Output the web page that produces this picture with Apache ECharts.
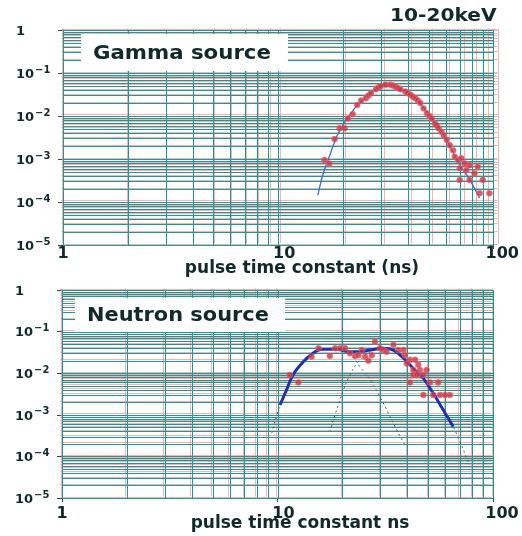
<!DOCTYPE html>
<html>
<head>
<meta charset="utf-8">
<style>
  html, body { margin: 0; padding: 0; background: #fff; }
  #chart { width: 522px; height: 536px; }
</style>
<script src="https://cdn.jsdelivr.net/npm/echarts@6/dist/echarts.min.js"></script>
</head>
<body>
<div id="chart"></div>
<script>
// grid line positions (log paper)
const gridX = [1, 2, 3, 4, 5, 6, 7, 8, 9, 10, 20, 30, 40, 50, 60, 70, 80, 90, 100]
const gridY = [
  1e-5, 2e-5, 3e-5, 4e-5, 5e-5, 6e-5, 7e-5, 8e-5, 9e-5,
  1e-4, 2e-4, 3e-4, 4e-4, 5e-4, 6e-4, 7e-4, 8e-4, 9e-4,
  1e-3, 2e-3, 3e-3, 4e-3, 5e-3, 6e-3, 7e-3, 8e-3, 9e-3,
  1e-2, 2e-2, 3e-2, 4e-2, 5e-2, 6e-2, 7e-2, 8e-2, 9e-2,
  1e-1, 2e-1, 3e-1, 4e-1, 5e-1, 6e-1, 7e-1, 8e-1, 9e-1, 1
]

// Gamma source, 10-20keV
const gammaPts = [
  [16.4, 9.5e-4], [17.3, 7.9e-4], [18.3, 2.9e-3], [19.3, 5.2e-3], [20.4, 5.2e-3],
  [21.1, 8.8e-3], [22.2, 1.1e-2], [23.3, 1.8e-2], [24.3, 2.3e-2], [25.6, 2.6e-2],
  [26.3, 3.0e-2], [27.0, 3.4e-2], [28.5, 4.2e-2], [29.2, 4.6e-2], [30.0, 5.0e-2],
  [31.6, 5.3e-2], [33.3, 5.3e-2], [34.2, 5.1e-2], [35.1, 4.8e-2], [36.0, 4.5e-2],
  [37.0, 4.2e-2], [39.0, 3.7e-2], [40.0, 3.4e-2], [41.2, 3.1e-2], [42.3, 2.8e-2],
  [43.4, 2.6e-2], [44.6, 2.3e-2], [45.8, 2.0e-2], [47.4, 1.5e-2], [49.1, 1.16e-2],
  [50.5, 1.0e-2], [51.8, 8.8e-3], [53.6, 6.8e-3], [54.6, 6.0e-3], [55.6, 5.2e-3],
  [57.5, 4.3e-3], [58.9, 3.5e-3], [60.7, 2.8e-3], [62.8, 2.1e-3], [65.1, 1.6e-3],
  [66.2, 1.13e-3], [68.6, 9.5e-4], [71.1, 1.04e-3], [73.6, 7.9e-4], [69.8, 6.1e-4],
  [75.0, 5.5e-4], [77.6, 7.2e-4], [81.8, 4.6e-4], [84.7, 6.6e-4], [69.8, 3.25e-4],
  [77.6, 3.25e-4], [89.3, 3.25e-4], [86.3, 1.6e-4], [95.9, 1.6e-4]
]
const gammaFit = [
  [15.3, 1.44e-4], [16.2, 4.6e-4], [17.4, 1.24e-3], [18.7, 3.3e-3], [20.0, 6.2e-3],
  [21.5, 1.05e-2], [23.0, 1.65e-2], [24.7, 2.35e-2], [27.5, 3.7e-2], [31.6, 5.2e-2],
  [35.0, 4.9e-2], [39.0, 3.8e-2], [43.4, 2.6e-2], [50.0, 1.1e-2], [57.5, 4.3e-3],
  [63.0, 1.9e-3], [68.6, 8.5e-4], [77.6, 3.3e-4], [86.3, 1.24e-4]
]

// Neutron source
const neutronPts = [
  [11.4, 9.1e-3], [12.5, 6.0e-3], [14.4, 2.5e-2], [15.5, 4.0e-2], [17.5, 2.6e-2],
  [18.5, 4.0e-2], [19.5, 4.0e-2], [20.6, 4.0e-2], [21.7, 3.0e-2], [22.9, 2.6e-2],
  [23.7, 2.7e-2], [24.6, 3.6e-2], [25.5, 2.5e-2], [26.4, 2.0e-2], [27.4, 2.7e-2],
  [28.3, 5.7e-2], [29.9, 4.0e-2], [31.0, 3.6e-2], [32.1, 3.3e-2], [34.5, 4.8e-2],
  [36.4, 3.6e-2], [38.4, 3.6e-2], [39.0, 2.7e-2], [39.8, 1.7e-2], [41.2, 2.1e-2],
  [43.5, 2.1e-2], [42.7, 1.2e-2], [45.0, 1.6e-2], [45.8, 1.2e-2], [47.5, 9.1e-3],
  [49.2, 1.2e-2], [42.7, 9.1e-3], [44.3, 9.1e-3], [41.2, 6.0e-3], [51.0, 6.0e-3],
  [55.7, 6.0e-3], [47.5, 3.0e-3], [52.8, 3.0e-3], [56.8, 3.0e-3], [59.9, 3.0e-3],
  [63.1, 3.0e-3]
]
const neutronFit = [
  [10.27, 1.72e-3], [11.0, 3.9e-3], [11.8, 9.1e-3], [13.2, 1.9e-2], [14.7, 3.1e-2],
  [16.3, 3.75e-2], [18.8, 3.75e-2], [21.7, 3.3e-2], [24.1, 3.3e-2], [26.9, 3.6e-2],
  [31.0, 4.0e-2], [34.5, 3.6e-2], [38.4, 2.3e-2], [42.7, 1.3e-2], [47.5, 7.5e-3],
  [52.8, 3.3e-3], [58.8, 1.3e-3], [65.4, 5.2e-4]
]
const neutronLow = [
  [9.4, 3.6e-4], [10.27, 1.72e-3], [11.0, 3.9e-3], [11.8, 9.1e-3], [13.2, 1.9e-2],
  [14.7, 3.1e-2], [16.3, 3.75e-2], [18.8, 3.75e-2], [21.7, 2.9e-2], [24.1, 1.44e-2],
  [26.9, 6.9e-3], [29.9, 2.7e-3], [33.3, 9.0e-4], [36.4, 3.6e-4], [39.0, 1.9e-4]
]
const neutronHigh = [
  [17.5, 3.9e-4], [18.8, 1.3e-3], [20.2, 3.9e-3], [21.7, 9.1e-3], [23.3, 1.7e-2],
  [25.5, 2.7e-2], [28.0, 3.6e-2], [31.0, 4.0e-2], [34.5, 3.6e-2], [38.4, 2.3e-2],
  [42.7, 1.3e-2], [47.5, 7.5e-3], [52.8, 3.3e-3], [58.8, 1.3e-3], [65.4, 5.2e-4],
  [76.6, 7.5e-5]
]

const TEAL = '#1c9896'
const RED = 'rgba(238,128,128,0.6)'
const INK = '#10292a'
const FONT = 'DejaVu Sans'

const chart = echarts.init(document.getElementById('chart'))

function vLine(color) {
  return function (params, api) {
    const cs = params.coordSys
    const x = Math.round(api.coord([api.value(0), 1e-3])[0]) + 0.5
    return {
      type: 'line',
      shape: { x1: x, y1: cs.y, x2: x, y2: cs.y + cs.height },
      style: { stroke: color, lineWidth: 1 }
    }
  }
}
function hLine(color) {
  return function (params, api) {
    const cs = params.coordSys
    const y = Math.round(api.coord([10, api.value(1)])[1]) + 0.5
    return {
      type: 'line',
      shape: { x1: cs.x, y1: y, x2: cs.x + cs.width, y2: y },
      style: { stroke: color, lineWidth: 1 }
    }
  }
}

function paper(idx, color, z) {
  return [
    { type: 'custom', xAxisIndex: idx, yAxisIndex: idx, z: z, silent: true, clip: false,
      renderItem: vLine(color), data: gridX.map(v => [v, 1e-3]) },
    { type: 'custom', xAxisIndex: idx, yAxisIndex: idx, z: z, silent: true, clip: false,
      renderItem: hLine(color), data: gridY.map(v => [10, v]) }
  ]
}

function xAxisShown(idx, margin) {
  return {
    type: 'log', logBase: 10, min: 1, max: 100, gridIndex: idx,
    axisLine: { show: true, lineStyle: { color: TEAL, width: 1 } },
    axisTick: { show: true, length: 4, lineStyle: { color: '#2c4a4a' } },
    minorTick: { show: false },
    splitLine: { show: false },
    axisLabel: {
      margin: margin,
      formatter: v => {
        const n = Math.round(v)
        return '{t' + n + '|' + n + '}'
      },
      rich: {
        t1: { fontFamily: FONT, fontWeight: 'bold', fontSize: 16, color: INK },
        t10: { fontFamily: FONT, fontWeight: 'bold', fontSize: 16, color: INK, padding: [0, 0, 0, 12] },
        t100: { fontFamily: FONT, fontWeight: 'bold', fontSize: 16, color: INK, padding: [0, 0, 0, 18] }
      }
    }
  }
}
function yAxisShown(idx) {
  return {
    type: 'log', logBase: 10, min: 1e-5, max: 1, gridIndex: idx,
    axisLine: { show: true, lineStyle: { color: TEAL, width: 1 } },
    axisTick: { show: true, length: 5, lineStyle: { color: '#2c4a4a' } },
    splitLine: { show: false },
    axisLabel: {
      margin: 47,
      align: 'left',
      formatter: v => {
        const e = Math.round(Math.log10(v))
        if (e === 0) return '{a|1}'
        return '{a|10}{b|' + (e < 0 ? '\u2212' : '') + Math.abs(e) + '}'
      },
      rich: {
        a: { fontFamily: FONT, fontWeight: 'bold', fontSize: 13, color: INK, lineHeight: 16, verticalAlign: 'bottom' },
        b: { fontFamily: FONT, fontWeight: 'bold', fontSize: 10, color: INK, lineHeight: 16, verticalAlign: 'top', padding: [0, 0, 0, 1] }
      }
    }
  }
}
function hiddenX(idx) {
  return { type: 'log', logBase: 10, min: 1, max: 100, gridIndex: idx, show: false }
}
function hiddenY(idx) {
  return { type: 'log', logBase: 10, min: 1e-5, max: 1, gridIndex: idx, show: false }
}

const dotStyle = {
  color: '#cf3442',
  borderColor: 'rgba(240,120,130,0.6)',
  borderWidth: 1
}

const option = {
  backgroundColor: '#fff',
  animation: false,
  grid: [
    { left: 63, top: 30, width: 436, height: 215 },
    { left: 61.5, top: 28.5, width: 436, height: 215 },
    { left: 62, top: 290, width: 431, height: 208 },
    { left: 60.5, top: 288.5, width: 431, height: 208 }
  ],
  xAxis: [xAxisShown(0, 1), hiddenX(1), xAxisShown(2, 8), hiddenX(3)],
  yAxis: [yAxisShown(0), hiddenY(1), yAxisShown(2), hiddenY(3)],
  series: [
    ...paper(1, RED, 1),
    ...paper(0, TEAL, 2),
    ...paper(3, RED, 1),
    ...paper(2, TEAL, 2),
    {
      name: 'gamma fit', type: 'line', xAxisIndex: 0, yAxisIndex: 0, z: 3,
      data: gammaFit, smooth: 0.4, showSymbol: false,
      lineStyle: { color: '#2f6fd8', width: 1.3 }
    },
    {
      name: 'gamma', type: 'scatter', xAxisIndex: 0, yAxisIndex: 0, z: 4,
      data: gammaPts, symbolSize: 6, itemStyle: dotStyle
    },
    {
      name: 'neutron low', type: 'line', xAxisIndex: 2, yAxisIndex: 2, z: 3,
      data: neutronLow, smooth: 0.4, showSymbol: false,
      lineStyle: { color: '#2f6a6a', width: 1, type: [2, 3] }
    },
    {
      name: 'neutron high', type: 'line', xAxisIndex: 2, yAxisIndex: 2, z: 3,
      data: neutronHigh, smooth: 0.4, showSymbol: false,
      lineStyle: { color: '#2f6a6a', width: 1, type: [2, 3] }
    },
    {
      name: 'neutron fit', type: 'line', xAxisIndex: 2, yAxisIndex: 2, z: 3,
      data: neutronFit, smooth: 0.4, showSymbol: false,
      lineStyle: { color: '#1e2fb4', width: 3 }
    },
    {
      name: 'neutron', type: 'scatter', xAxisIndex: 2, yAxisIndex: 2, z: 4,
      data: neutronPts, symbolSize: 6, itemStyle: dotStyle
    }
  ],
  graphic: [
    { type: 'rect', z: 100, shape: { x: 81, y: 34, width: 207, height: 37 }, style: { fill: '#fff' } },
    { type: 'text', z: 101, x: 93, y: 54, scaleX: 1.12,
      style: { text: 'Gamma source', font: 'bold 19px "DejaVu Sans"', fill: INK, align: 'left', verticalAlign: 'middle' } },
    { type: 'rect', z: 100, shape: { x: 75, y: 298, width: 210, height: 34 }, style: { fill: '#fff' } },
    { type: 'text', z: 101, x: 87, y: 316, scaleX: 1.1,
      style: { text: 'Neutron source', font: 'bold 19px "DejaVu Sans"', fill: INK, align: 'left', verticalAlign: 'middle' } },
    { type: 'text', z: 101, x: 390, y: 16, scaleX: 1.12,
      style: { text: '10-20keV', font: 'bold 18px "DejaVu Sans"', fill: INK, align: 'left', verticalAlign: 'middle' } },
    { type: 'text', z: 101, x: 302, y: 269,
      style: { text: 'pulse time constant (ns)', font: 'bold 17px "DejaVu Sans"', fill: INK, align: 'center', verticalAlign: 'middle' } },
    { type: 'text', z: 101, x: 300, y: 524,
      style: { text: 'pulse time constant ns', font: 'bold 17px "DejaVu Sans"', fill: INK, align: 'center', verticalAlign: 'middle' } }
  ]
}
chart.setOption(option)
</script>
</body>
</html>
